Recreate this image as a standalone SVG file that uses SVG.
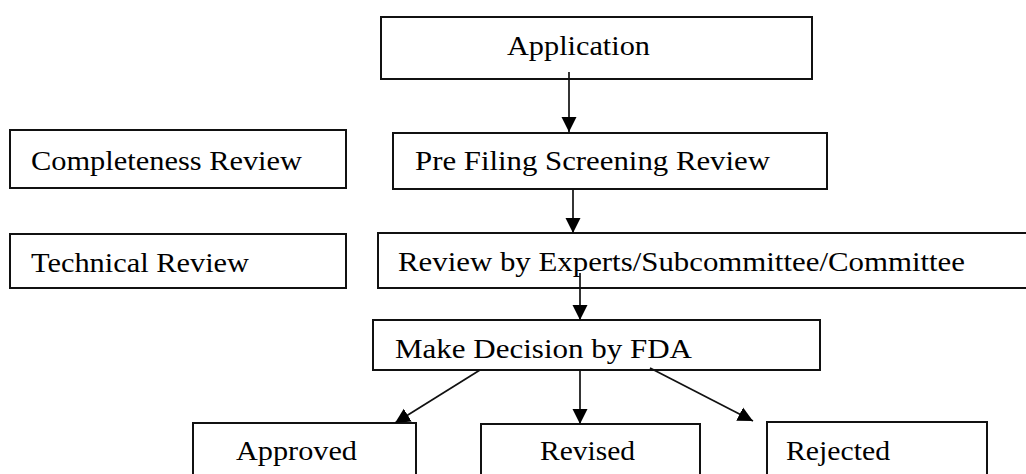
<svg xmlns="http://www.w3.org/2000/svg" width="1026" height="474" viewBox="0 0 1026 474">
<style>
.box{fill:#fff;stroke:#111;stroke-width:2}
.lbl{font-family:"Liberation Serif","Times New Roman",serif;font-size:27px;fill:#000}
.edge{stroke:#111;stroke-width:1.7;fill:none;marker-end:url(#ah)}
</style>
<defs>
<marker id="ah" markerUnits="userSpaceOnUse" markerWidth="16" markerHeight="16" viewBox="0 0 16 16" refX="15" refY="8" orient="auto">
<path d="M0,0.5 L15,8 L0,15.5 Z" fill="#000"/>
</marker>
</defs>
<rect width="1026" height="474" fill="#fff"/>
<g id="n-application"><rect class="box" x="381" y="17" width="431" height="62"/><text class="lbl" x="507" y="55" textLength="143" lengthAdjust="spacingAndGlyphs">Application</text></g>
<g id="n-completeness"><rect class="box" x="10" y="130" width="336" height="58"/><text class="lbl" x="31" y="170" textLength="271" lengthAdjust="spacingAndGlyphs">Completeness Review</text></g>
<g id="n-prefiling"><rect class="box" x="393" y="133" width="434" height="56"/><text class="lbl" x="415" y="170" textLength="355" lengthAdjust="spacingAndGlyphs">Pre Filing Screening Review</text></g>
<g id="n-technical"><rect class="box" x="10" y="234" width="336" height="54"/><text class="lbl" x="31" y="272" textLength="218" lengthAdjust="spacingAndGlyphs">Technical Review</text></g>
<g id="n-experts"><rect class="box" x="378" y="233" width="660" height="55"/><text class="lbl" x="398" y="271" textLength="567" lengthAdjust="spacingAndGlyphs">Review by Experts/Subcommittee/Committee</text></g>
<g id="n-decision"><rect class="box" x="373" y="320" width="447" height="50"/><text class="lbl" x="395" y="358" textLength="297" lengthAdjust="spacingAndGlyphs">Make Decision by FDA</text></g>
<g id="n-approved"><rect class="box" x="193" y="423" width="223" height="60"/><text class="lbl" x="236" y="460" textLength="121" lengthAdjust="spacingAndGlyphs">Approved</text></g>
<g id="n-revised"><rect class="box" x="481" y="424" width="219" height="60"/><text class="lbl" x="540" y="460" textLength="95" lengthAdjust="spacingAndGlyphs">Revised</text></g>
<g id="n-rejected"><rect class="box" x="767" y="422" width="220" height="60"/><text class="lbl" x="786" y="460" textLength="104" lengthAdjust="spacingAndGlyphs">Rejected</text></g>
<g id="connectors">
<line class="edge" x1="569" y1="72" x2="569" y2="132"/>
<line class="edge" x1="573" y1="189" x2="573" y2="233"/>
<line class="edge" x1="580" y1="273" x2="580" y2="320"/>
<line class="edge" x1="480" y1="370" x2="395" y2="423"/>
<line class="edge" x1="580" y1="370" x2="580" y2="424"/>
<line class="edge" x1="650" y1="368" x2="753" y2="421"/>
</g>
</svg>
